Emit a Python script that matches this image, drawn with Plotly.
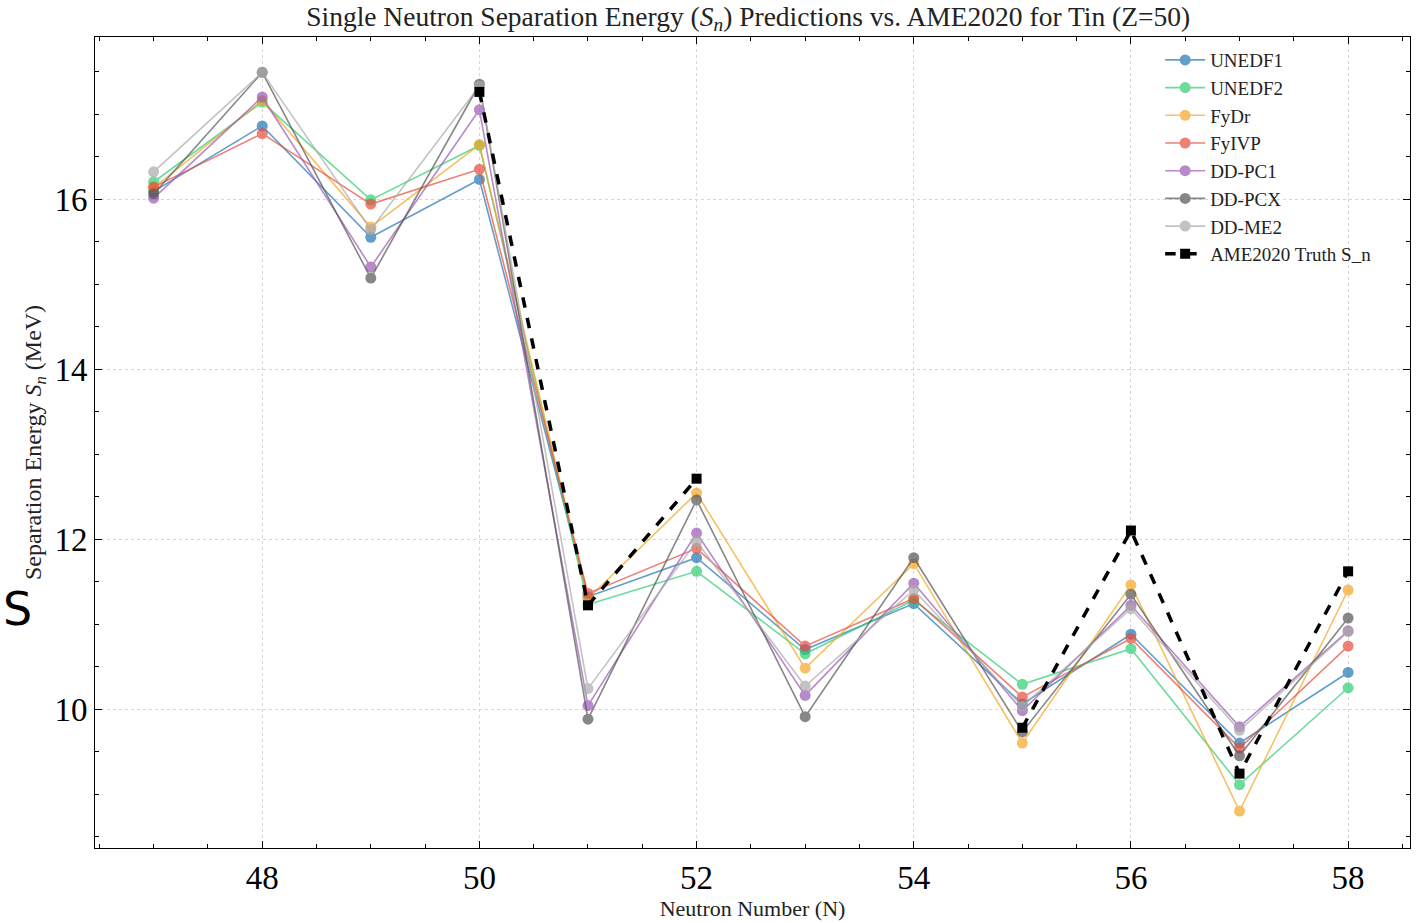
import plotly.graph_objects as go

N = [47, 48, 49, 50, 51, 52, 53, 54, 55, 56, 57, 58]

unedf1 = [16.09, 16.86, 15.55, 16.23, 11.32, 11.78, 10.70, 11.24, 10.06, 10.88, 9.60, 10.43]
unedf2 = [16.20, 17.14, 15.99, 16.63, 11.23, 11.62, 10.65, 11.28, 10.29, 10.71, 9.11, 10.25]
fydr   = [16.13, 17.16, 15.67, 16.64, 11.30, 12.54, 10.48, 11.71, 9.60, 11.46, 8.80, 11.40]
fyivp  = [16.14, 16.77, 15.94, 16.35, 11.36, 11.89, 10.74, 11.30, 10.14, 10.83, 9.54, 10.74]
ddpc1  = [16.01, 17.20, 15.20, 17.05, 10.04, 12.07, 10.16, 11.48, 9.98, 11.22, 9.79, 10.92]
ddpcx  = [16.06, 17.49, 15.07, 17.35, 9.88, 12.46, 9.91, 11.78, 9.73, 11.35, 9.45, 11.07]
ddme2  = [16.32, 17.49, 15.64, 17.33, 10.24, 11.97, 10.27, 11.40, 10.03, 11.18, 9.75, 10.91]

# AME2020 truth values (missing at N=53, 54)
N_ame = [50, 51, 52, 53, 54, 55, 56, 57, 58]
ame   = [17.26, 11.22, 12.71, None, None, 9.78, 12.10, 9.24, 11.62]

series = [
    ("UNEDF1", unedf1, "#1f77b4"),
    ("UNEDF2", unedf2, "#2ecc71"),
    ("FyDr", fydr, "#f5a623"),
    ("FyIVP", fyivp, "#e74c3c"),
    ("DD-PC1", ddpc1, "#9b59b6"),
    ("DD-PCX", ddpcx, "#555555"),
    ("DD-ME2", ddme2, "#aaaaaa"),
]

FONT = "Liberation Serif"

fig = go.Figure()
for name, vals, col in series:
    fig.add_trace(go.Scatter(
        x=N, y=vals, name=name, mode="lines+markers",
        line=dict(color=col, width=1.6),
        marker=dict(color=col, size=11, symbol="circle"),
        opacity=0.7,
    ))

fig.add_trace(go.Scatter(
    x=N_ame, y=ame, name="AME2020 Truth S_n", mode="lines+markers",
    line=dict(color="black", width=3.5, dash="dash"),
    marker=dict(color="black", size=10, symbol="square"),
    connectgaps=False,
))

axis_common = dict(
    showline=True, linecolor="black", linewidth=1, mirror="allticks",
    ticks="inside", ticklen=7, tickcolor="black",
    showgrid=True, gridcolor="#d6d6d6", griddash="dot", gridwidth=1,
    zeroline=False, automargin=False,
    tickfont=dict(family=FONT, size=33, color="black"),
)

fig.update_layout(
    width=1417, height=922,
    margin=dict(l=95, r=7, t=37, b=74),
    plot_bgcolor="white", paper_bgcolor="white",
    font=dict(family=FONT, color="#222222"),
    title=dict(
        text="Single Neutron Separation Energy (<i>S<sub>n</sub></i>) Predictions vs. AME2020 for Tin (Z=50)",
        x=0.528, xanchor="center", y=0.993, yanchor="top",
        font=dict(family=FONT, size=27.5, color="#222222"),
    ),
    xaxis=dict(
        range=[46.46, 58.57], tickmode="array", tickvals=[48, 50, 52, 54, 56, 58],
        minor=dict(ticks="inside", ticklen=4, tickcolor="black", dtick=0.5, tick0=47, showgrid=False),
        title=dict(text="Neutron Number (N)", font=dict(family=FONT, size=22, color="#222222"), standoff=6),
        **axis_common,
    ),
    yaxis=dict(
        range=[8.365, 17.906], tickmode="array", tickvals=[10, 12, 14, 16],
        minor=dict(ticks="inside", ticklen=4, tickcolor="black", dtick=0.5, tick0=8, showgrid=False),
        title=dict(text="Separation Energy <i>S<sub>n</sub></i> (MeV)", font=dict(family=FONT, size=24, color="#222222"), standoff=6),
        **axis_common,
    ),
    legend=dict(
        x=0.81, y=0.995, xanchor="left", yanchor="top",
        bgcolor="rgba(255,255,255,0)", borderwidth=0,
        font=dict(family=FONT, size=19, color="#222222"),
        itemwidth=40, tracegroupgap=0,
    ),
    showlegend=True,
)

fig.add_annotation(
    text="S", xref="paper", yref="paper", x=-0.059, y=0.295,
    xanchor="center", yanchor="middle", showarrow=False,
    font=dict(family="DejaVu Sans", size=46, color="black"),
)

fig.write_html("out.html")
